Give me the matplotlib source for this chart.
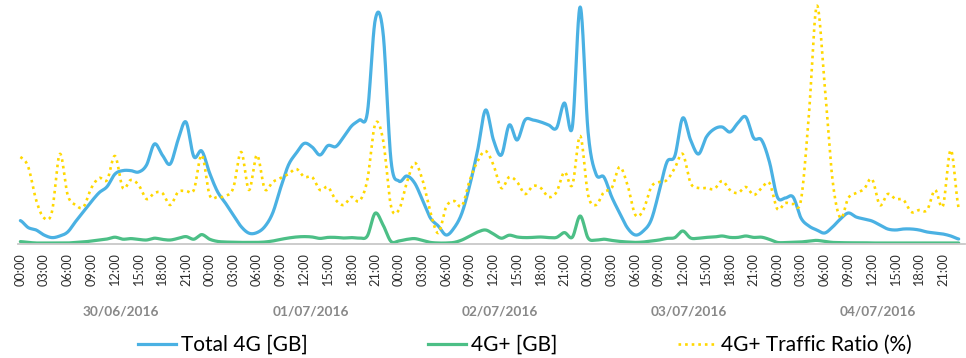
import numpy as np
import matplotlib
matplotlib.use("Agg")
import matplotlib.pyplot as plt
from matplotlib.lines import Line2D
from matplotlib import transforms

plt.rcParams['font.family'] = ['Lato', 'DejaVu Sans']

# Hourly samples, 30/06/2016 00:00 .. 04/07/2016 23:00
dates = ["30/06/2016", "01/07/2016", "02/07/2016", "03/07/2016", "04/07/2016"]
hour_labels = ["00:00", "03:00", "06:00", "09:00", "12:00", "15:00", "18:00", "21:00"]

total_4g = [
    11.7, 8.2, 7.0, 4.5, 3.2, 4.0, 6.0, 11.2, 16.2, 21.2, 25.7, 28.7,
    35.0, 36.7, 36.7, 36.0, 39.5, 50.0, 44.5, 40.0, 52.0, 61.0, 43.7, 46.5,
    35.5, 26.2, 20.5, 14.5, 8.7, 5.4, 5.7, 8.7, 15.5, 28.0, 39.5, 45.5,
    50.3, 48.5, 44.5, 49.2, 48.7, 53.5, 59.0, 62.0, 65.5, 112.0, 105.5, 42.0,
    31.5, 34.0, 30.5, 22.0, 13.0, 9.0, 4.5, 8.0, 15.5, 29.5, 47.0, 67.0,
    52.0, 44.5, 59.5, 52.0, 62.0, 62.0, 61.0, 59.5, 58.0, 70.5, 58.5, 118.5,
    56.0, 35.0, 33.5, 23.5, 15.5, 8.0, 4.5, 6.5, 12.0, 26.0, 41.0, 44.0,
    63.0, 52.0, 45.0, 53.5, 57.5, 58.5, 56.0, 60.5, 63.5, 53.0, 52.0, 41.0,
    23.5, 23.0, 23.5, 13.0, 9.0, 7.0, 5.5, 8.5, 12.5, 15.5, 13.5, 12.5,
    11.5, 9.5, 7.5, 7.0, 7.5, 7.5, 7.0, 6.0, 5.5, 5.0, 4.0, 2.5,
]

plus_4g = [
    1.2, 0.8, 0.5, 0.5, 0.5, 0.5, 0.5, 0.8, 1.0, 1.5, 2.0, 2.5,
    3.4, 2.4, 2.7, 2.3, 2.0, 2.9, 2.3, 2.0, 2.8, 3.7, 2.4, 4.7,
    2.4, 1.3, 1.0, 0.9, 0.8, 0.8, 0.8, 1.0, 1.5, 2.3, 3.0, 3.5,
    3.7, 3.5, 2.8, 3.3, 3.3, 3.0, 3.2, 3.0, 4.0, 15.4, 9.5, 1.3,
    1.5, 2.3, 2.7, 1.8, 0.8, 0.5, 0.5, 0.8, 2.0, 4.0, 6.0, 7.0,
    5.0, 2.9, 4.4, 3.5, 3.2, 3.3, 3.5, 3.2, 3.3, 5.7, 3.4, 14.0,
    3.0, 2.0, 2.4, 1.8, 1.3, 1.0, 0.8, 1.0, 1.5, 2.0, 2.8, 3.2,
    6.5, 3.0, 2.9, 3.3, 3.5, 4.0, 3.3, 3.3, 4.0, 3.3, 3.4, 2.3,
    0.8, 0.7, 0.8, 1.0, 1.5, 1.8, 1.3, 0.8, 0.7, 0.6, 0.6, 0.6,
    0.5, 0.5, 0.5, 0.5, 0.5, 0.5, 0.5, 0.5, 0.5, 0.5, 0.5, 0.5,
]

traffic_ratio = [
    8.7, 7.7, 4.4, 2.6, 3.2, 9.0, 4.9, 3.9, 3.7, 5.6, 6.6, 6.4,
    8.8, 5.6, 6.4, 5.9, 4.5, 5.1, 5.1, 3.9, 5.2, 5.3, 5.4, 8.9,
    4.9, 4.7, 4.8, 5.6, 9.2, 5.4, 8.9, 5.5, 6.2, 6.6, 7.0, 7.5,
    6.7, 6.7, 5.4, 5.7, 4.4, 3.9, 4.7, 4.3, 6.4, 12.0, 10.4, 3.8,
    3.4, 6.1, 8.1, 6.4, 3.2, 1.1, 3.7, 4.3, 3.8, 6.4, 8.3, 9.3,
    7.9, 5.6, 6.7, 6.2, 5.0, 5.8, 5.6, 4.7, 5.2, 7.2, 5.9, 10.8,
    4.9, 3.9, 5.2, 5.6, 7.7, 5.9, 2.9, 3.4, 5.7, 6.2, 6.4, 7.6,
    9.0, 6.1, 5.6, 5.6, 5.5, 6.3, 5.4, 5.1, 5.7, 4.9, 5.6, 6.1,
    3.5, 4.1, 4.0, 4.4, 12.9, 23.8, 15.9, 6.4, 2.6, 4.6, 5.1, 5.5,
    6.5, 3.9, 5.0, 4.5, 4.4, 3.2, 3.4, 3.4, 5.4, 3.8, 9.4, 3.6,
]

BLUE = "#4AB1E3"
GREEN = "#4CBF86"
YELLOW = "#FFD800"


def smooth_curve(values, steps=20):
    """Bezier smoothing through every sample (spreadsheet-style smoothed line)."""
    v = np.asarray(values, float)
    p = np.concatenate([[v[0]], v, [v[-1]]])
    xs, ys = [], []
    t = np.linspace(0.0, 1.0, steps, endpoint=False)
    for i in range(len(v) - 1):
        p0, p1, p2, p3 = p[i], p[i + 1], p[i + 2], p[i + 3]
        c1 = p1 + (p2 - p0) / 6.0
        c2 = p2 - (p3 - p1) / 6.0
        b = (1 - t) ** 3 * p1 + 3 * (1 - t) ** 2 * t * c1 + 3 * (1 - t) * t ** 2 * c2 + t ** 3 * p2
        xs.append(i + t)
        ys.append(b)
    xs.append([len(v) - 1])
    ys.append([v[-1]])
    return np.concatenate(xs), np.concatenate(ys)


W, H = 966, 358
fig = plt.figure(figsize=(W / 100, H / 100), dpi=100)
ax = fig.add_axes([18 / W, 114 / H, (965 - 18) / W, 241 / H])
ax2 = ax.twinx()

n = len(total_4g)
hx, hy = smooth_curve(total_4g)
gx, gy = smooth_curve(plus_4g)
rx, ry = smooth_curve(traffic_ratio)

ax.plot(hx, hy, color=BLUE, lw=2.3, solid_capstyle="round")
ax.plot(gx, gy, color=GREEN, lw=2.3, solid_capstyle="round")
ax2.plot(rx, ry, color=YELLOW, lw=1.9, linestyle=(0, (1, 1.5)), dash_capstyle="butt")

ax.set_xlim(-0.3, n - 0.2)
ax.set_ylim(0, 120.5)
ax2.set_ylim(0, 24.1)

for a in (ax, ax2):
    for s in ("top", "right", "left", "bottom"):
        a.spines[s].set_visible(False)
    a.set_yticks([])
ax.spines["bottom"].set_visible(True)
ax.spines["bottom"].set_color("#c8c8c8")
ax.spines["bottom"].set_linewidth(1.3)

ticks = np.arange(0, n, 3)
ax.set_xticks(ticks)
ax.set_xticklabels([hour_labels[(t % 24) // 3] for t in ticks], rotation=90,
                   fontsize=9.2, color="#2e2e2e")
ax.tick_params(axis="x", length=0, pad=6.5)

tr = transforms.blended_transform_factory(ax.transData, fig.transFigure)
for d, label in enumerate(dates):
    ax.text(12.8 + 24 * d, (H - 311) / H, label, transform=tr, ha="center", va="center",
            fontsize=9.8, fontweight="bold", color="#888888")

handles = [
    Line2D([], [], color=BLUE, lw=2.3),
    Line2D([], [], color=GREEN, lw=2.3),
    Line2D([], [], color=YELLOW, lw=1.9, linestyle=(0, (1, 1.5))),
]
fig.legend(handles, ["Total 4G [GB]", "4G+ [GB]", "4G+ Traffic Ratio (%)"],
           loc="center", bbox_to_anchor=(525 / W, (H - 345) / H), ncol=3,
           frameon=False, fontsize=15, handlelength=1.8, handletextpad=0.25,
           columnspacing=5.8)

fig.savefig("out.png", dpi=100)
